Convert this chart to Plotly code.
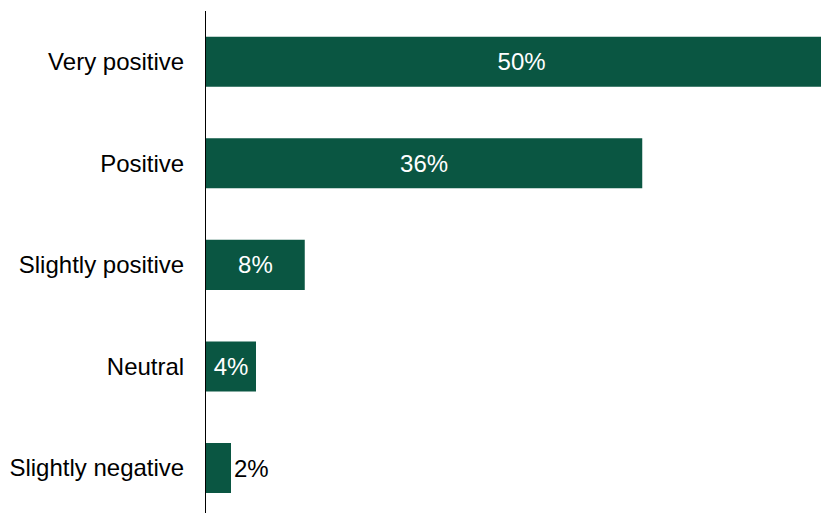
import plotly.graph_objects as go

categories = ["Very positive", "Positive", "Slightly positive", "Neutral", "Slightly negative"]
values = [50.5, 34.9, 7.9, 4.0, 2.0]
labels = ["50%", "36%", "8%", "4%", "2%"]
positions = ["inside", "inside", "inside", "inside", "outside"]

FONT = "Liberation Sans, Arial"

fig = go.Figure(go.Bar(
    x=values,
    y=categories,
    orientation="h",
    marker=dict(color="#0A5642", line=dict(width=0)),
    text=labels,
    textposition=positions,
    insidetextanchor="middle",
    insidetextfont=dict(color="white", size=24, family=FONT),
    outsidetextfont=dict(color="black", size=24, family=FONT),
    cliponaxis=True,
    constraintext="none",
    hoverinfo="skip",
))

fig.update_layout(
    width=821,
    height=513,
    margin=dict(l=206, r=0, t=11, b=0, pad=0),
    paper_bgcolor="white",
    plot_bgcolor="white",
    bargap=0.507,
    showlegend=False,
    font=dict(family=FONT, size=24, color="black"),
    xaxis=dict(range=[0, 49.2], showgrid=False, zeroline=False, showticklabels=False,
               showline=False, ticks=""),
    yaxis=dict(categoryorder="array", categoryarray=categories,
               range=[4.443, -0.5], showgrid=False, zeroline=False,
               showline=True, linecolor="black", linewidth=1,
               ticks="", ticklabelstandoff=16,
               tickfont=dict(size=24, color="black", family=FONT)),
)

fig.write_html(
    "out.html",
    config={"displayModeBar": False, "staticPlot": True},
    post_script="document.body.style.margin='0';document.body.style.overflow='hidden';",
)
